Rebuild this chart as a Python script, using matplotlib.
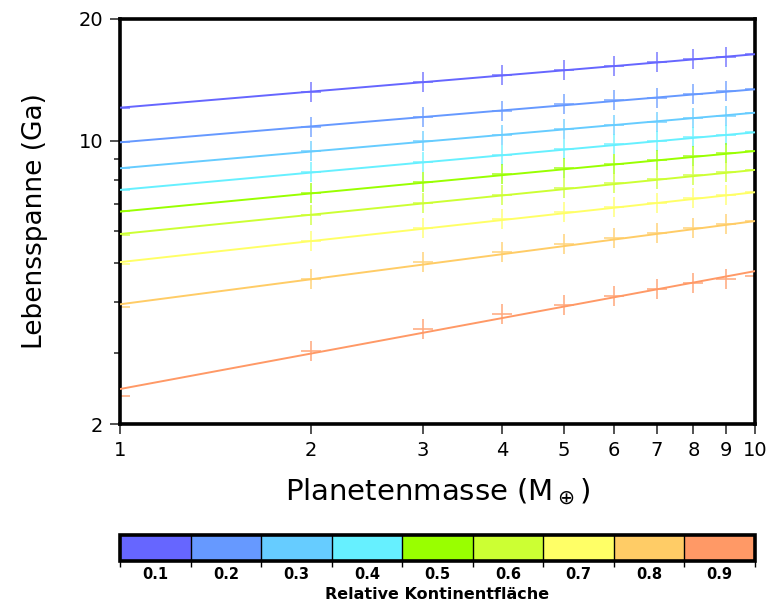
import numpy as np
import matplotlib
matplotlib.use("Agg")
import matplotlib.pyplot as plt
from matplotlib.colors import ListedColormap, BoundaryNorm
from matplotlib.ticker import FixedLocator, NullFormatter

# relative continent area -> colour
fractions = [0.1, 0.2, 0.3, 0.4, 0.5, 0.6, 0.7, 0.8, 0.9]
colors = ["#6666ff", "#6699ff", "#66ccff", "#66f0ff", "#99ff00",
          "#ccff33", "#ffff66", "#ffcc66", "#ff9966"]

masses = [1, 2, 3, 4, 5, 6, 7, 8, 9, 10]

# lifespan (Ga) per planet mass, one list per continent fraction
life_01 = [12.08, 13.23, 14.00, 14.54, 14.96, 15.33, 15.63, 15.90, 16.14, 16.36]
life_02 = [9.92, 10.85, 11.44, 11.88, 12.32, 12.60, 12.79, 13.06, 13.28, 13.41]
life_03 = [8.56, 9.46, 10.01, 10.36, 10.70, 10.97, 11.16, 11.37, 11.54, 11.74]
life_04 = [7.56, 8.37, 8.89, 9.23, 9.55, 9.81, 9.99, 10.21, 10.34, 10.50]
life_05 = [6.71, 7.42, 7.93, 8.27, 8.56, 8.77, 8.97, 9.18, 9.32, 9.44]
life_06 = [5.86, 6.56, 7.01, 7.34, 7.64, 7.86, 8.04, 8.24, 8.37, 8.48]
life_07 = [4.97, 5.67, 6.10, 6.42, 6.69, 6.86, 7.04, 7.22, 7.35, 7.47]
life_08 = [3.90, 4.57, 5.03, 5.33, 5.56, 5.75, 5.93, 6.10, 6.22, 6.34]
life_09 = [2.34, 3.03, 3.44, 3.73, 3.93, 4.14, 4.30, 4.45, 4.55, 4.64]
lifespans = [life_01, life_02, life_03, life_04, life_05,
             life_06, life_07, life_08, life_09]

# power-law fit lines, value at M=1 and M=10
fit_mass = [1, 10]
fit_start = [12.08, 9.92, 8.56, 7.57, 6.69, 5.89, 5.02, 3.95, 2.44]
fit_end = [16.37, 13.41, 11.74, 10.50, 9.44, 8.48, 7.47, 6.34, 4.77]

yticks_major = [2, 10, 20]
yticks_minor = [3, 4, 5, 6, 7, 8, 9]

W, H = 769, 606
fig = plt.figure(figsize=(W / 100, H / 100), dpi=100)
ax = fig.add_axes([120 / W, 1 - 424 / H, 635 / W, 405 / H])

for c, ys, y0, y1 in zip(colors, lifespans, fit_start, fit_end):
    ax.plot(fit_mass, [y0, y1], color=c, lw=1.4, zorder=3)
    ax.plot(masses, ys, ls="none", marker="+", ms=15, mew=1.2,
            color=c, alpha=0.8, zorder=2)

ax.set_xscale("log")
ax.set_yscale("log")
ax.set_xlim(1, 10)
ax.set_ylim(2, 20)
ax.xaxis.set_major_locator(FixedLocator(masses))
ax.xaxis.set_minor_locator(FixedLocator([]))
ax.set_xticklabels([str(m) for m in masses])
ax.yaxis.set_major_locator(FixedLocator(yticks_major))
ax.set_yticklabels([str(t) for t in yticks_major])
ax.yaxis.set_minor_locator(FixedLocator(yticks_minor))
ax.yaxis.set_minor_formatter(NullFormatter())
ax.tick_params(which="major", direction="out", length=7, width=1.2,
               color="#333333", labelsize=14, pad=5)
ax.tick_params(which="minor", direction="out", length=4, width=1.2,
               color="#333333")
for s in ax.spines.values():
    s.set_linewidth(2.6)

ax.set_xlabel(r"Planetenmasse (M$_\oplus$)", fontsize=21, labelpad=12)
ax.set_ylabel("Lebensspanne (Ga)", fontsize=19, labelpad=22)

# colour key
cax = fig.add_axes([120 / W, 1 - 561 / H, 635 / W, 26 / H])
bounds = np.arange(0.05, 1.0, 0.1)
cmap = ListedColormap(colors)
norm = BoundaryNorm(bounds, cmap.N)
cb = matplotlib.colorbar.ColorbarBase(cax, cmap=cmap, norm=norm,
                                      orientation="horizontal",
                                      boundaries=bounds, ticks=fractions,
                                      drawedges=True)
cb.outline.set_linewidth(2.6)
cb.dividers.set_linewidth(1.0)
cb.set_ticklabels([f"{f:.1f}" for f in fractions])
cax.tick_params(which="major", length=0, labelsize=10.5, pad=4)
for lab in cax.get_xticklabels():
    lab.set_fontweight("bold")
cax.xaxis.set_minor_locator(FixedLocator(list(bounds)))
cax.tick_params(which="minor", direction="out", length=4, width=1.0)
cb.set_label("Relative Kontinentfläche", fontsize=11.5, fontweight="bold",
             labelpad=4)

fig.savefig("out.png", dpi=100)
